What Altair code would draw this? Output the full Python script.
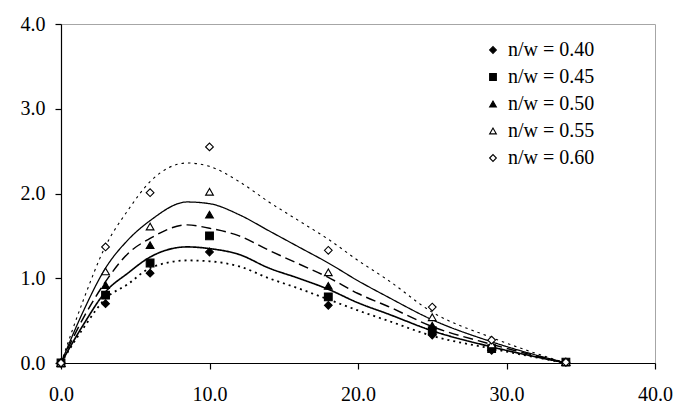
import altair as alt
import pandas as pd

series_names = ["n/w = 0.40", "n/w = 0.45", "n/w = 0.50", "n/w = 0.55", "n/w = 0.60"]

# measured points
x_pts = [0, 3, 6, 10, 18, 25, 29, 34]
y_040 = [0, 0.70, 1.06, 1.31, 0.68, 0.33, 0.15, 0.01]
y_045 = [0, 0.80, 1.18, 1.50, 0.78, 0.38, 0.17, 0.01]
y_050 = [0, 0.92, 1.39, 1.75, 0.91, 0.44, 0.19, 0.01]
y_055 = [0, 1.08, 1.61, 2.02, 1.07, 0.54, 0.22, 0.01]
y_060 = [0, 1.37, 2.01, 2.55, 1.33, 0.66, 0.27, 0.01]

# fitted curves
x_fit = [0, 1.5, 3, 4.5, 6, 8.5, 10, 12, 14, 16, 18, 20, 22, 25, 29, 34]
f_040 = [0, 0.41, 0.76, 0.93, 1.12, 1.21, 1.20, 1.14, 1.00, 0.88, 0.75, 0.62, 0.50, 0.32, 0.17, 0]
f_045 = [0, 0.45, 0.84, 1.06, 1.25, 1.37, 1.35, 1.28, 1.12, 1.00, 0.87, 0.71, 0.58, 0.38, 0.19, 0]
f_050 = [0, 0.53, 0.96, 1.29, 1.47, 1.63, 1.59, 1.50, 1.33, 1.17, 1.01, 0.82, 0.67, 0.43, 0.22, 0]
f_055 = [0, 0.61, 1.12, 1.45, 1.68, 1.90, 1.88, 1.75, 1.56, 1.37, 1.18, 0.97, 0.78, 0.51, 0.25, 0]
f_060 = [0, 0.74, 1.38, 1.80, 2.14, 2.36, 2.32, 2.14, 1.90, 1.68, 1.46, 1.21, 0.98, 0.60, 0.30, 0]

pt_vals = [y_040, y_045, y_050, y_055, y_060]
fit_vals = [f_040, f_045, f_050, f_055, f_060]

pts = pd.DataFrame([
    {"x": x, "y": y, "series": s}
    for s, ys in zip(series_names, pt_vals) for x, y in zip(x_pts, ys)
])
fits = pd.DataFrame([
    {"x": x, "y": y, "curve": s}
    for s, ys in zip(series_names, fit_vals) for x, y in zip(x_fit, ys)
])
leg = pd.DataFrame({"series": series_names})

font = "Liberation Serif, Times New Roman, DejaVu Serif, serif"
xscale = alt.Scale(domain=[0, 40], nice=False)
yscale = alt.Scale(domain=[0, 4], nice=False)
xaxis = alt.Axis(values=[0, 10, 20, 30, 40], format=".1f", title=None, grid=False,
                 labelPadding=15, labelFlush=False, labelOverlap=False,
                 labelFont=font, labelFontSize=20, labelColor="black")
yaxis = alt.Axis(values=[0, 1, 2, 3, 4], format=".1f", title=None, grid=False,
                 labelPadding=10, labelFlush=False, labelOverlap=False,
                 labelFont=font, labelFontSize=20, labelColor="black")

shape_scale = alt.Scale(domain=series_names,
                        range=["diamond", "square", "triangle-up", "triangle-up", "diamond"])
fill_scale = alt.Scale(domain=series_names,
                       range=["black", "black", "black", "white", "white"])

lines = alt.Chart(fits).mark_line(interpolate="monotone", color="black").encode(
    x=alt.X("x:Q", scale=xscale, axis=xaxis),
    y=alt.Y("y:Q", scale=yscale, axis=yaxis),
    detail="curve:N",
    strokeDash=alt.StrokeDash("curve:N", scale=alt.Scale(
        domain=series_names,
        range=[[2, 4], [1, 0], [10, 5], [1, 0], [2.5, 4]]), legend=None),
    strokeWidth=alt.StrokeWidth("curve:N", scale=alt.Scale(
        domain=series_names, range=[1.8, 1.1, 1.6, 1.1, 2.2]), legend=None),
)

points = alt.Chart(pts).mark_point(size=60, filled=True, stroke="black",
                                   strokeWidth=1.1, opacity=1).encode(
    x=alt.X("x:Q", scale=xscale, axis=xaxis),
    y=alt.Y("y:Q", scale=yscale, axis=yaxis),
    shape=alt.Shape("series:N", scale=shape_scale, legend=None),
    fill=alt.Fill("series:N", scale=fill_scale, legend=None),
)

# legend drawn as its own layer (independent y band for the rows)
leg_y = alt.Y("series:N", axis=None,
              scale=alt.Scale(domain=series_names, range=[26, 134], padding=0))
leg_pts = alt.Chart(leg).mark_point(size=45, filled=True, stroke="black",
                                    strokeWidth=1.1, opacity=1).encode(
    x=alt.value(432),
    y=leg_y,
    shape=alt.Shape("series:N", scale=shape_scale, legend=None),
    fill=alt.Fill("series:N", scale=fill_scale, legend=None),
)
leg_txt = alt.Chart(leg).mark_text(align="left", baseline="middle", font=font,
                                   fontSize=20, color="black").encode(
    x=alt.value(447),
    y=leg_y,
    text="series:N",
)

chart = alt.layer(
    alt.layer(lines, points),
    alt.layer(leg_pts, leg_txt),
).resolve_scale(y="independent").properties(
    width=594, height=339,
    autosize=alt.AutoSizeParams(type="none"),
    padding={"left": 61, "top": 24, "right": 21, "bottom": 55},
    background="white",
).configure_view(
    stroke="#a6a6a6", strokeWidth=1
).configure_axis(
    domainColor="black", tickColor="black", tickSize=6,
    domainWidth=1.2, tickWidth=1.2
)

chart.save("out.html", embed_options={"renderer": "svg", "actions": False})
